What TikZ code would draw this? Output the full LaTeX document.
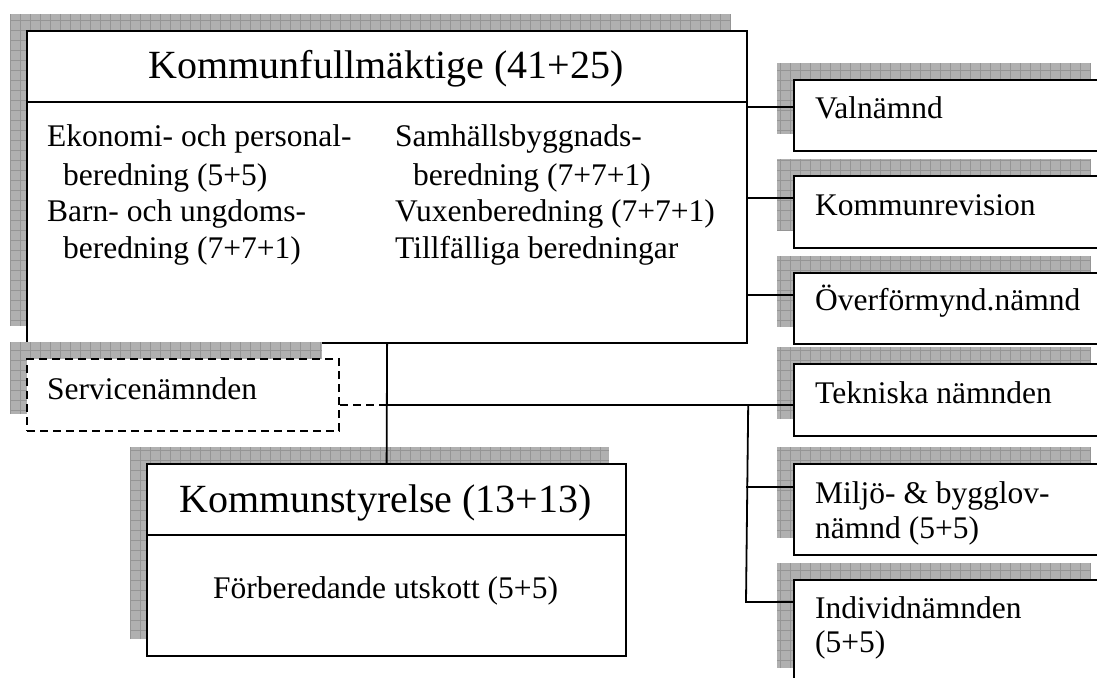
\documentclass[tikz,border=0pt]{standalone}
\usepackage{fontspec}
\setmainfont{Liberation Serif}
\definecolor{shfill}{HTML}{B0B0B0}
\definecolor{shgrid}{HTML}{959595}
\tikzset{
  box/.style={draw=black, line width=2.2pt, fill=white, inner sep=0pt, anchor=north west},
  shadowfill/.style={fill=shfill, draw=none},
  shadowgrid/.style={draw=shgrid, line width=0.8pt},
  conn/.style={draw=black, line width=1.8pt},
  dconn/.style={conn, dash pattern=on 8pt off 5pt},
  lbl/.style={inner sep=0pt, anchor=base west, font=\fontsize{31.5}{36}\selectfont},
  ttl/.style={inner sep=0pt, anchor=base, font=\fontsize{40}{46}\selectfont},
  ctr/.style={inner sep=0pt, anchor=base, font=\fontsize{31.5}{36}\selectfont},
}
% #1 name, #2 x, #3 y, #4 width, #5 height, #6 extra options
\newcommand\shbox[6]{%
  \fill[shadowfill] (#2-16,#3-16) rectangle (#2-16+#4,#3-16+#5);
  \draw[shadowgrid, step=10pt] (#2-16,#3-16) grid (#2-16+#4,#3-16+#5);
  \node[box, minimum width=#4pt, minimum height=#5pt, #6] (#1) at (#2,#3) {};}
\begin{document}
\begin{tikzpicture}[x=1pt,y=-1pt]
\useasboundingbox (0,0) rectangle (1097,677);
\clip (0,0) rectangle (1097,677);
% boxes with shadows
\shbox{kf}{26}{30}{720}{312}{}
\shbox{serv}{26}{358}{312}{72}{dash pattern=on 8pt off 5pt}
\shbox{ks}{146}{463}{479}{192}{}
\shbox{val}{793}{79}{314}{71}{}
\shbox{rev}{793}{175}{314}{72}{}
\shbox{ofm}{793}{272}{314}{71}{}
\shbox{tek}{793}{363}{314}{72}{}
\shbox{mil}{793}{463}{314}{91}{}
\shbox{ind}{793}{579}{314}{105}{}
% separators
\draw[line width=2.2pt] ([yshift=-72pt]kf.north west) -- ([yshift=-72pt]kf.north east);
\draw[line width=2.2pt] ([yshift=-72pt]ks.north west) -- ([yshift=-72pt]ks.north east);
% connector points
\coordinate (jn) at (386,405);
\coordinate (cval) at (746,107);
\coordinate (crev) at (746,198);
\coordinate (cofm) at (746,295);
\coordinate (cmil) at (746,487);
\coordinate (cind) at (746,602);
% connectors
\draw[conn] (kf.south) -- (ks.north);
\draw[conn] (jn) -- (tek.west |- jn);
\draw[dconn] (serv.east |- jn) -- (jn);
\draw[conn] (cval) -- (val.west |- cval);
\draw[conn] (crev) -- (rev.west |- crev);
\draw[conn] (cofm) -- (ofm.west |- cofm);
\draw[conn] (kf.east |- jn) -- (cind) -- (ind.west |- cind);
\draw[conn] (cmil) -- (mil.west |- cmil);
% texts
\node[ttl] (kft) at (386,78) {Kommunfullmäktige (41+25)};
\node[lbl] (e1) at (47,146) {Ekonomi- och personal-};
\node[lbl] (e2) at (63,185) {beredning (5+5)};
\node[lbl] (e3) at (47,221) {Barn- och ungdoms-};
\node[lbl] (e4) at (63,258) {beredning (7+7+1)};
\node[lbl] (s1) at (395,146) {Samhällsbyggnads-};
\node[lbl] (s2) at (413,185) {beredning (7+7+1)};
\node[lbl] (s3) at (395,221) {Vuxenberedning (7+7+1)};
\node[lbl] (s4) at (395,258) {Tillfälliga beredningar};
\node[lbl] (servt) at (47,399) {Servicenämnden};
\node[ttl] (kst) at (385.5,512) {Kommunstyrelse (13+13)};
\node[ctr] (kst2) at (385.5,598) {Förberedande utskott (5+5)};
\node[lbl] (valt) at (815,118) {Valnämnd};
\node[lbl] (revt) at (815,215) {Kommunrevision};
\node[lbl] (ofmt) at (815,310) {Överförmynd.nämnd};
\node[lbl] (tekt) at (815,403) {Tekniska nämnden};
\node[lbl] (milt1) at (815,503) {Miljö- \& bygglov-};
\node[lbl] (milt2) at (815,538) {nämnd (5+5)};
\node[lbl] (indt1) at (815,618) {Individnämnden};
\node[lbl] (indt2) at (815,652) {(5+5)};
\end{tikzpicture}
\end{document}
